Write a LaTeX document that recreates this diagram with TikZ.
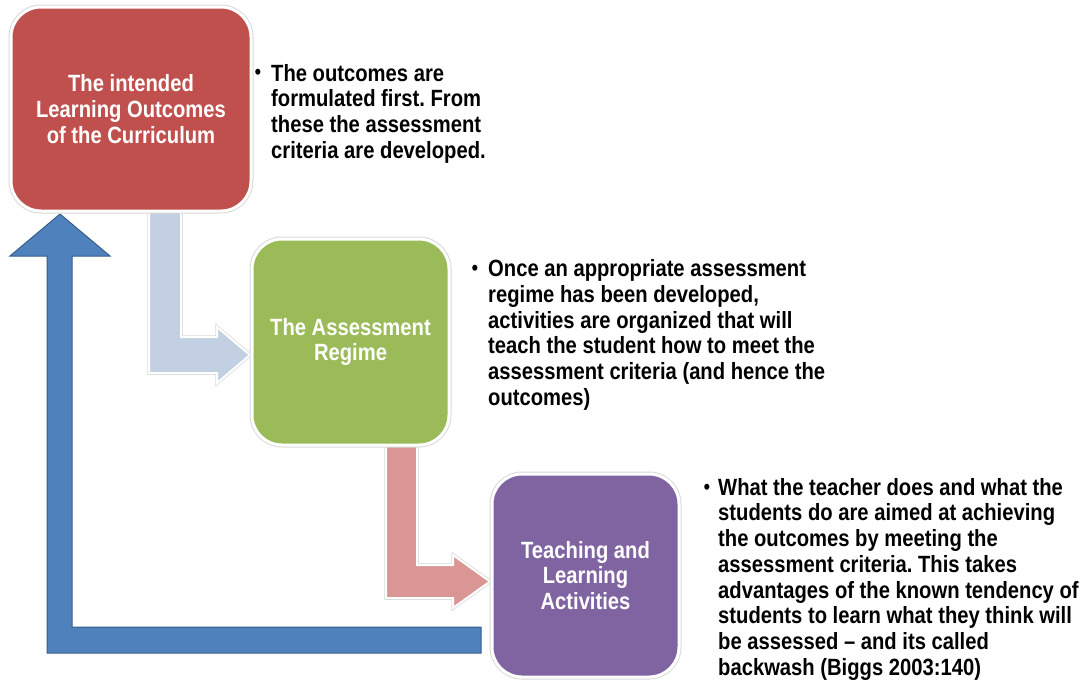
\documentclass[tikz,border=0pt]{standalone}
\usepackage{fontspec}
\setmainfont{Liberation Sans}[FakeStretch=0.86]
\frenchspacing
\definecolor{cred}{RGB}{192,80,77}
\definecolor{cgreen}{RGB}{155,187,89}
\definecolor{cpurple}{RGB}{128,100,162}
\definecolor{cblue}{RGB}{79,129,189}
\definecolor{cblueline}{RGB}{56,93,138}
\definecolor{clight}{RGB}{195,207,227}
\definecolor{cpink}{RGB}{217,150,148}
\begin{document}
\begin{tikzpicture}[x=1pt,y=-1pt,
  box/.style={draw=white, line width=3pt, rounded corners=30pt, text=white,
    font=\bfseries\fontsize{23.5}{25.7}\selectfont, align=center, inner sep=0pt,
    preaction={draw=black!15, line width=5pt}},
  bullettext/.style={anchor=north west, inner sep=0pt, align=left,
    font=\bfseries\fontsize{23.5}{25.7}\selectfont},
  bulletdot/.style={inner sep=0pt, font=\fontsize{22}{22}\selectfont},
  blockarrow/.style={draw=white, line width=2pt, line join=miter,
    preaction={draw=black!15, line width=3.5pt}},
  backarrow/.style={fill=cblue, draw=cblueline, line width=1pt, line join=miter}]
\useasboundingbox (0,0) rectangle (1089,683);

% feedback arrow
\draw[backarrow] (481,627) -- (72,627) -- (72,256) -- (110,256) -- (60,214)
  -- (10,256) -- (47,256) -- (47,653) -- (481,653) -- cycle;

% bent arrows
\draw[blockarrow, fill=clight] (149,200) -- (181,200) -- (181,337) -- (217,337)
  -- (217,327) -- (250,355) -- (217,383) -- (217,373) -- (149,373) -- cycle;
\draw[blockarrow, fill=cpink] (386,435) -- (417,435) -- (417,565) -- (453,565)
  -- (453,555) -- (490,581.5) -- (453,608) -- (453,598) -- (386,598) -- cycle;

% boxes
\node[box, fill=cred, minimum width=240pt, minimum height=204pt] (b1) at (131,109)
  {The intended\\Learning Outcomes\\of the Curriculum};
\node[box, fill=cgreen, minimum width=197pt, minimum height=206pt] (b2) at (350.5,342)
  {The Assessment\\Regime};
\node[box, fill=cpurple, minimum width=187pt, minimum height=203pt] (b3) at (585.5,575.5)
  {Teaching and\\Learning\\Activities};

% bullets
\node[bulletdot] (d1) at (258,74) {•};
\node[bullettext] (t1) at (271,64)
  {The outcomes are\\formulated first. From\\these the assessment\\criteria are developed.};
\node[bulletdot] (d2) at (475,270) {•};
\node[bullettext] (t2) at (488,259.5)
  {Once an appropriate assessment\\regime has been developed,\\activities are organized that will\\teach the student how to meet the\\assessment criteria (and hence the\\outcomes)};
\node[bulletdot] (d3) at (707,489) {•};
\node[bullettext] (t3) at (718,478)
  {What the teacher does and what the\\students do are aimed at achieving\\the outcomes by meeting the\\assessment criteria. This takes\\advantages of the known tendency of\\students to learn what they think will\\be assessed – and its called\\backwash (Biggs 2003:140)};
\end{tikzpicture}
\end{document}
